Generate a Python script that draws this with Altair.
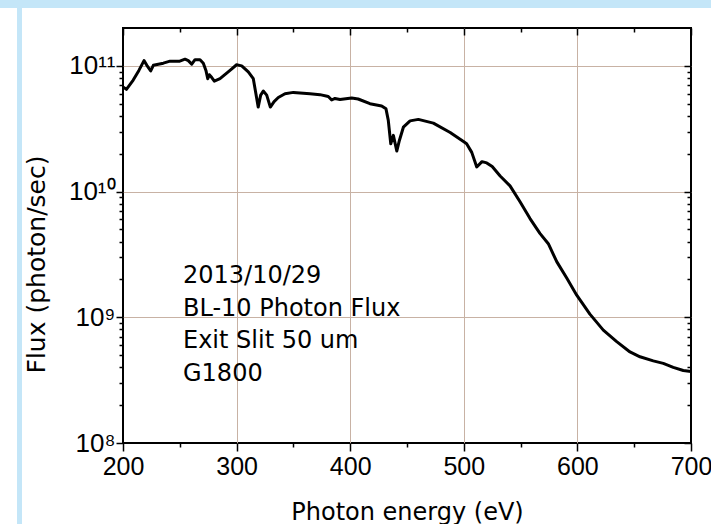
import altair as alt
import pandas as pd

# ---- data ----
energy = [200, 203, 209, 214, 218.5, 221, 224.4, 226.7, 235.5, 241.4,
          250, 254.6, 257.5, 260.5, 263.4, 267.8, 270.7, 273, 274.6, 276,
          278, 280.4, 285.4, 294.2, 300, 304.5, 310.3, 314.7, 317, 319,
          321.2, 323.5, 326.5, 329.7, 333, 336.7, 342.6, 350, 364.6, 373.4,
          380.7, 383.7, 386.6, 391, 401.3, 407, 417.4, 427.7, 431.5, 433.5,
          435.7, 438, 441, 443.3, 446.8, 452.7, 460, 473.2, 488, 499.7,
          502.5, 507, 511.4, 516, 520.2, 525, 532, 540.7, 549.5, 558.3,
          567, 574.4, 581.8, 590.6, 599.4, 611, 622.8, 634.6, 646.3, 655.1,
          666.8, 675.6, 684.4, 693.2, 700]
flux = [6.8e10, 6.5e10, 7.7e10, 9.2e10, 1.10e11, 1.01e11, 9.1e10, 1.01e11, 1.05e11, 1.09e11,
        1.09e11, 1.13e11, 1.10e11, 1.03e11, 1.12e11, 1.12e11, 1.05e11, 9.2e10, 7.9e10, 8.5e10,
        8.1e10, 7.55e10, 7.9e10, 9.2e10, 1.02e11, 1.0e11, 8.95e10, 7.9e10, 6.0e10, 4.7e10,
        5.85e10, 6.3e10, 5.85e10, 4.7e10, 5.2e10, 5.6e10, 6.0e10, 6.15e10, 6.0e10, 5.9e10,
        5.7e10, 5.35e10, 5.5e10, 5.4e10, 5.55e10, 5.45e10, 5.0e10, 4.8e10, 4.55e10, 3.7e10,
        2.4e10, 2.8e10, 2.1e10, 2.55e10, 3.25e10, 3.65e10, 3.75e10, 3.5e10, 2.95e10, 2.5e10,
        2.4e10, 2.05e10, 1.57e10, 1.73e10, 1.69e10, 1.58e10, 1.33e10, 1.11e10, 8.3e9, 6.1e9,
        4.65e9, 3.85e9, 2.77e9, 2.05e9, 1.5e9, 1.06e9, 7.9e8, 6.4e8, 5.3e8, 4.85e8,
        4.5e8, 4.3e8, 4.0e8, 3.77e8, 3.7e8]

x_major = [200, 300, 400, 500, 600, 700]
x_minor = [250, 350, 450, 550, 650]
x_grid = [300, 400, 500, 600]
y_major = [1e8, 1e9, 1e10, 1e11]
y_major_labels = ["10⁸", "10⁹", "10¹⁰", "10¹¹"]
y_minor = [k * 10.0 ** e for e in (8, 9, 10) for k in range(2, 10)]
y_grid = [1e9, 1e10, 1e11]

note_lines = ["2013/10/29", "BL-10 Photon Flux", "Exit Slit 50 um", "G1800"]

x_title = "Photon energy (eV)"
y_title = "Flux (photon/sec)"

# ---- chart ----
W, H = 568, 415
FONT = "Liberation Sans"
TFONT = "DejaVu Sans"
df = pd.DataFrame({"E": energy, "F": flux})

xs = alt.Scale(domain=[200, 700], nice=False, zero=False)
ys = alt.Scale(type="log", domain=[1e8, 2e11], nice=False)

label_expr = " : ".join(
    f"datum.value < {v * 3:g} ? '{t}'" for v, t in zip(y_major[:-1], y_major_labels[:-1])
) + f" : '{y_major_labels[-1]}'"

common = dict(domain=False, tickColor="black", tickWidth=1.5, labelColor="black")


def line_layer(xaxis, yaxis, visible):
    return alt.Chart(df).mark_line(
        color="black", strokeWidth=3, opacity=1 if visible else 0, strokeJoin="round"
    ).encode(
        x=alt.X("E:Q", scale=xs, axis=xaxis),
        y=alt.Y("F:Q", scale=ys, axis=yaxis),
    )


grid_layer = line_layer(
    alt.Axis(orient="bottom", values=x_grid, grid=True, gridColor="#c8b2a4", gridWidth=1,
             ticks=False, labels=False, title="", domain=False),
    alt.Axis(orient="left", values=y_grid, grid=True, gridColor="#c8b2a4", gridWidth=1,
             ticks=False, labels=False, title="", domain=False),
    False,
)

main_layer = line_layer(
    alt.Axis(orient="bottom", values=x_major, grid=False, tickSize=8, labelPadding=3,
             labelFlush=False, labelFont=FONT, labelFontSize=25, title=x_title,
             titleFont=TFONT, titleFontSize=24, titleFontWeight="normal", titleColor="black",
             titleY=76, titleBaseline="alphabetic", **common),
    alt.Axis(orient="left", values=y_major, labelExpr=label_expr, grid=False, tickSize=7,
             labelFlush=False, labelPadding=1, labelFont=FONT, labelFontSize=26,
             labelBaseline="middle", title=y_title, titleFont=TFONT, titleFontSize=25,
             titleFontWeight="normal", titleColor="black", titleAngle=270, titleX=-87,
             titleY=236, titleAlign="center", titleBaseline="middle", **common),
    True,
)

minor_layer = line_layer(
    alt.Axis(orient="bottom", values=x_minor, grid=False, tickSize=4, labels=False, title="", **common),
    alt.Axis(orient="left", values=y_minor, grid=False, tickSize=4, labels=False, title="", **common),
    False,
)

mirror_major = line_layer(
    alt.Axis(orient="bottom", offset=-H, values=x_major, grid=False, tickSize=7, labels=False, title="", **common),
    alt.Axis(orient="left", offset=-W, values=y_major, grid=False, tickSize=7, labels=False, title="", **common),
    False,
)

mirror_minor = line_layer(
    alt.Axis(orient="bottom", offset=-H, values=x_minor, grid=False, tickSize=4, labels=False, title="", **common),
    alt.Axis(orient="left", offset=-W, values=y_minor, grid=False, tickSize=4, labels=False, title="", **common),
    False,
)

note = alt.Chart(pd.DataFrame({"t": ["\n".join(note_lines)]})).mark_text(
    align="left", baseline="alphabetic", font=TFONT, fontSize=24, lineHeight=32.5,
    lineBreak="\n", color="black"
).encode(x=alt.value(60), y=alt.value(255), text="t:N")

one = pd.DataFrame({"k": [0]})
band_top = alt.Chart(one).mark_rect(color="#c4e6f8").encode(
    x=alt.value(-123), x2=alt.value(W + 20), y=alt.value(-28), y2=alt.value(-20))
band_left = alt.Chart(one).mark_rect(color="#c4e6f8").encode(
    x=alt.value(-106), x2=alt.value(-101), y=alt.value(-20), y2=alt.value(H + 81))

chart = alt.layer(
    band_top, band_left, grid_layer, minor_layer, mirror_major, mirror_minor, main_layer, note
).resolve_scale(x="shared", y="shared").resolve_axis(
    x="independent", y="independent"
).properties(
    width=W, height=H,
    autosize=alt.AutoSizeParams(type="none"),
    padding={"left": 123, "top": 28, "right": 20, "bottom": 81},
    background="white",
).configure_view(stroke="black", strokeWidth=2)

chart.save("out.html", embed_options={"renderer": "svg", "actions": False})
